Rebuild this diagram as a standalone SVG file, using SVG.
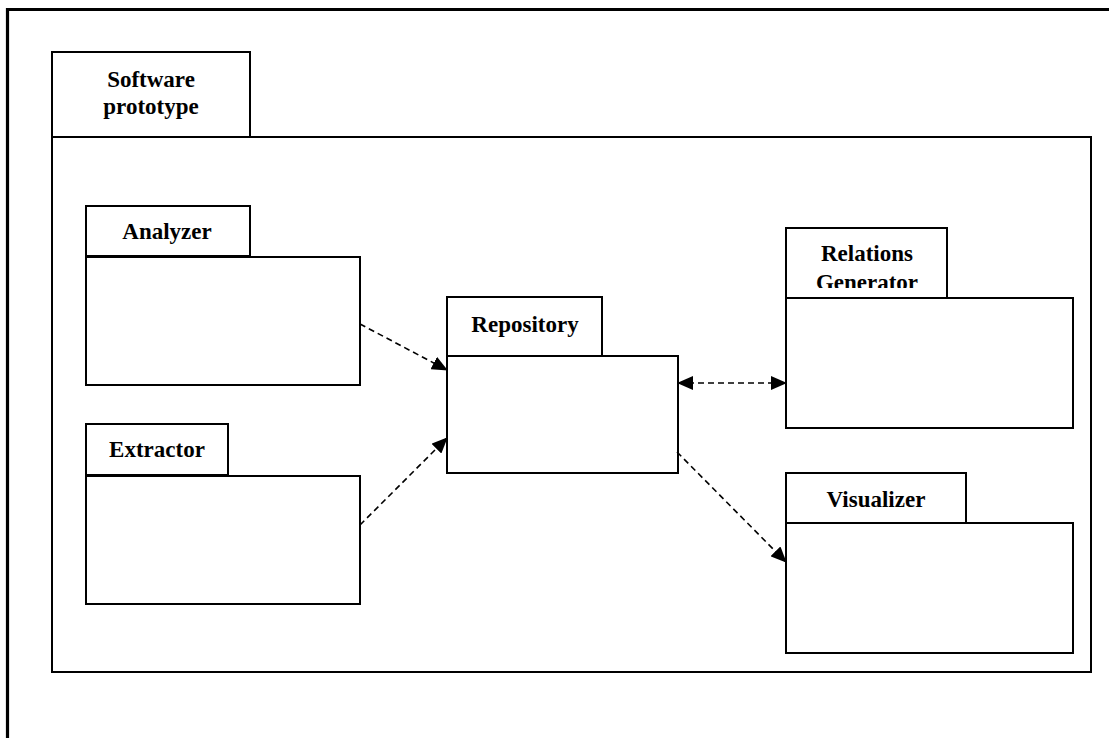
<svg xmlns="http://www.w3.org/2000/svg" width="1109" height="738" viewBox="0 0 1109 738">
<style>
.box{fill:#fff;stroke:#000;stroke-width:2}
.lbl{font-family:"Liberation Serif","Times New Roman",serif;font-weight:bold;font-size:23px;text-anchor:middle;fill:#000}
.dash{fill:none;stroke:#000;stroke-width:1.6;stroke-dasharray:6,4}
</style>
<defs>
<marker id="ah" markerUnits="userSpaceOnUse" markerWidth="16" markerHeight="14" refX="15" refY="7" orient="auto-start-reverse" viewBox="0 0 16 14">
<path d="M0,0 L16,7 L0,14 Z" fill="#000"/>
</marker>
<clipPath id="rgclip"><rect x="786" y="228" width="161" height="60"/></clipPath>
</defs>
<rect width="1109" height="738" fill="#fff"/>
<g id="frame">
<path d="M7.5,738 L7.5,9.5 L1109,9.5" fill="none" stroke="#000" stroke-width="3.2"/>
</g>
<g id="software-prototype">
<rect class="box" x="52" y="52" width="198" height="85"/>
<rect class="box" x="52" y="137" width="1039" height="535"/>
<text class="lbl" x="151" y="87">Software</text>
<text class="lbl" x="151" y="114">prototype</text>
</g>
<g id="analyzer">
<rect class="box" x="86" y="206" width="164" height="50"/>
<rect class="box" x="86" y="257" width="274" height="128"/>
<text class="lbl" x="167" y="239">Analyzer</text>
</g>
<g id="extractor">
<rect class="box" x="86" y="424" width="142" height="51"/>
<rect class="box" x="86" y="476" width="274" height="128"/>
<text class="lbl" x="157" y="457">Extractor</text>
</g>
<g id="repository">
<rect class="box" x="447" y="297" width="155" height="59"/>
<rect class="box" x="447" y="356" width="231" height="117"/>
<text class="lbl" x="525" y="332">Repository</text>
</g>
<g id="relations-generator">
<rect class="box" x="786" y="228" width="161" height="70"/>
<rect class="box" x="786" y="298" width="287" height="130"/>
<text class="lbl" x="867" y="261">Relations</text>
<text class="lbl" x="867" y="290" clip-path="url(#rgclip)">Generator</text>
</g>
<g id="visualizer">
<rect class="box" x="786" y="473" width="180" height="50"/>
<rect class="box" x="786" y="523" width="287" height="130"/>
<text class="lbl" x="876" y="507">Visualizer</text>
</g>
<g id="connectors">
<line class="dash" x1="360" y1="324" x2="447" y2="370" marker-end="url(#ah)"/>
<line class="dash" x1="360" y1="525" x2="447" y2="438" marker-end="url(#ah)"/>
<line class="dash" x1="678" y1="383" x2="786" y2="383" marker-start="url(#ah)" marker-end="url(#ah)"/>
<line class="dash" x1="677" y1="452" x2="786" y2="562" marker-end="url(#ah)"/>
</g>
</svg>
